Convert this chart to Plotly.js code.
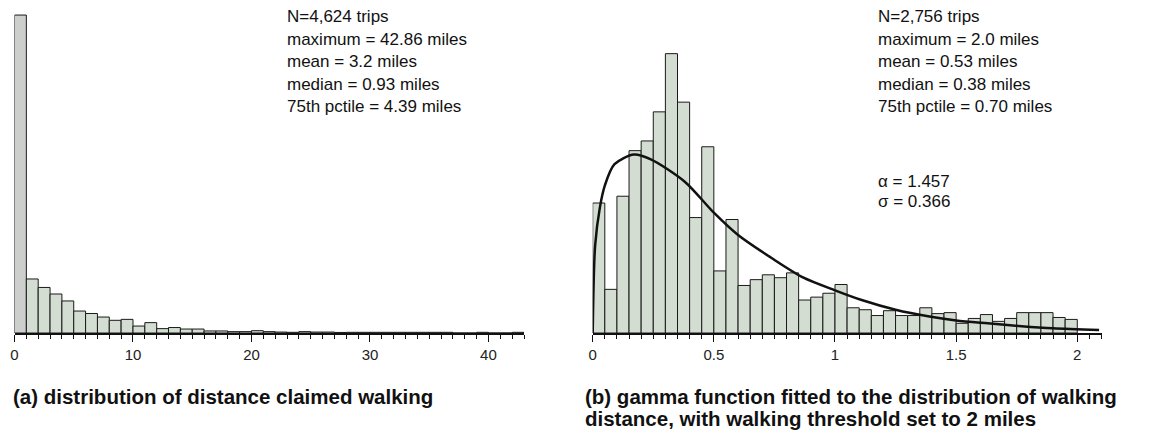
<!DOCTYPE html>
<html>
<head>
<meta charset="utf-8">
<script src="https://cdn.plot.ly/plotly-3.0.1.min.js"></script>
<style>
  html, body { margin: 0; padding: 0; background: #ffffff; }
  #chart { width: 1155px; height: 431px; }
</style>
</head>
<body>
<div id="chart"></div>
<script>
// ---- Data ----
// Panel (a): distance claimed walking, 1-mile bins starting at 0
const claimedBinWidth = 1;
const claimedCounts = [2331, 396, 334, 286, 235, 161, 143, 117, 93, 100,
                       51, 76, 32, 40, 29, 29, 15, 15, 10, 10,
                       17, 10, 7, 5, 10, 7, 7, 4, 5, 5,
                       5, 5, 5, 5, 5, 5, 5, 0, 0, 5,
                       0, 0, 5];
const claimedTicks = [0, 10, 20, 30, 40];

// Panel (b): walking distance up to 2 miles, 0.05-mile bins starting at 0
const walkBinWidth = 0.05;
const walkCounts = [134, 45, 141, 188, 198, 228, 288, 238, 119, 192,
                    64, 117, 49, 55, 60, 57, 62, 34, 37, 41,
                    50, 26, 24, 18, 23, 18, 18, 26, 20, 21,
                    10, 15, 19, 12, 15, 21, 21, 21, 16, 14];
const walkTicks = [0, 0.5, 1, 1.5, 2];
const walkTickLabels = ['0', '0.5', '1', '1.5', '2'];

// Fitted gamma curve (miles, count)
const gammaX = [0, 0.01, 0.03, 0.05, 0.09, 0.17, 0.24, 0.38, 0.5, 0.6,
                0.74, 0.87, 1.0, 1.11, 1.25, 1.39, 1.5, 1.63, 1.77, 1.9, 2.09];
const gammaY = [0, 90, 130, 152, 174, 184, 179, 156, 124, 101,
                77, 57, 44, 34, 24, 17, 13, 10, 7, 4.8, 3];

const statsA = ['N=4,624 trips', 'maximum = 42.86 miles', 'mean = 3.2 miles',
                'median = 0.93 miles', '75th pctile = 4.39 miles'];
const statsB = ['N=2,756 trips', 'maximum = 2.0 miles', 'mean = 0.53 miles',
                'median = 0.38 miles', '75th pctile = 0.70 miles'];
const paramsB = ['α = 1.457', 'σ = 0.366'];
const captionA = ['(a) distribution of distance claimed walking'];
const captionB = ['(b) gamma function fitted to the distribution of walking',
                  'distance, with walking threshold set to 2 miles'];

// ---- Layout helpers ----
const W = 1155, H = 431;
const px = x => x / W;
const py = y => 1 - y / H;
const FONT = 'Liberation Sans, Arial, Helvetica, sans-serif';

const greenFill = '#d3ddd1';
const grayFill = '#cdcfcc';
const claimedColors = claimedCounts.map((_, i) => (i === 0 ? grayFill : greenFill));

const traces = [
  {
    type: 'bar',
    x: claimedCounts.map((_, i) => i * claimedBinWidth),
    y: claimedCounts,
    width: claimedBinWidth,
    offset: 0,
    marker: { color: claimedColors, line: { color: '#1a1a1a', width: 1 } },
    xaxis: 'x', yaxis: 'y',
    hoverinfo: 'skip'
  },
  {
    type: 'bar',
    x: walkCounts.map((_, i) => i * walkBinWidth),
    y: walkCounts,
    width: walkBinWidth,
    offset: 0,
    marker: { color: greenFill, line: { color: '#1a1a1a', width: 1 } },
    xaxis: 'x2', yaxis: 'y2',
    hoverinfo: 'skip'
  },
  {
    type: 'scatter',
    mode: 'lines',
    x: gammaX,
    y: gammaY,
    line: { color: '#111111', width: 2.5, shape: 'spline', smoothing: 0.8 },
    xaxis: 'x2', yaxis: 'y2',
    hoverinfo: 'skip'
  }
];

const baseY = 333, topY = 10;
const yDomain = [py(baseY), py(topY)];

function xAxis(domain, range, tickvals, ticktext, minorStep) {
  return {
    domain: domain,
    range: range,
    showgrid: false,
    zeroline: false,
    showline: true,
    linecolor: '#111111',
    linewidth: 1.5,
    ticks: 'outside',
    ticklen: 7,
    tickwidth: 1,
    tickcolor: '#111111',
    tickmode: 'array',
    tickvals: tickvals,
    ticktext: ticktext,
    tickfont: { family: FONT, size: 15, color: '#222222' },
    minor: { dtick: minorStep, tick0: 0, ticks: 'outside', ticklen: 4, tickwidth: 1, tickcolor: '#111111', showgrid: false },
    fixedrange: true
  };
}

const annotations = [];
function addText(lines, x, y0, step, size, bold) {
  lines.forEach((t, i) => {
    annotations.push({
      xref: 'paper', yref: 'paper',
      x: px(x), y: py(y0 + i * step),
      xanchor: 'left', yanchor: 'middle',
      text: bold ? '<b>' + t + '</b>' : t,
      showarrow: false,
      font: { family: FONT, size: size, color: '#111111' }
    });
  });
}
addText(statsA, 285, 17, 22.5, 17, false);
addText(statsB, 876, 17, 22.5, 17, false);
addText(paramsB, 876, 181, 20.5, 17, false);
addText(captionA, 11, 396, 22, 20.5, true);
addText(captionB, 583, 396, 22, 20.5, true);

const layout = {
  width: W, height: H,
  margin: { l: 0, r: 0, t: 0, b: 0 },
  paper_bgcolor: '#ffffff',
  plot_bgcolor: 'rgba(0,0,0,0)',
  showlegend: false,
  bargap: 0,
  barmode: 'overlay',
  xaxis: xAxis([px(14.5), px(524)], [0, 43], claimedTicks, claimedTicks.map(String), 1),
  yaxis: { domain: yDomain, range: [0, 2368], visible: false, fixedrange: true },
  xaxis2: xAxis([px(592.7), px(1101.5)], [0, 2.1], walkTicks, walkTickLabels, 0.05),
  yaxis2: { domain: yDomain, range: [0, 333], visible: false, fixedrange: true, anchor: 'x2' },
  annotations: annotations
};
layout.xaxis.anchor = 'y';
layout.xaxis2.anchor = 'y2';

Plotly.newPlot('chart', traces, layout, { displayModeBar: false, staticPlot: true });
</script>
</body>
</html>
